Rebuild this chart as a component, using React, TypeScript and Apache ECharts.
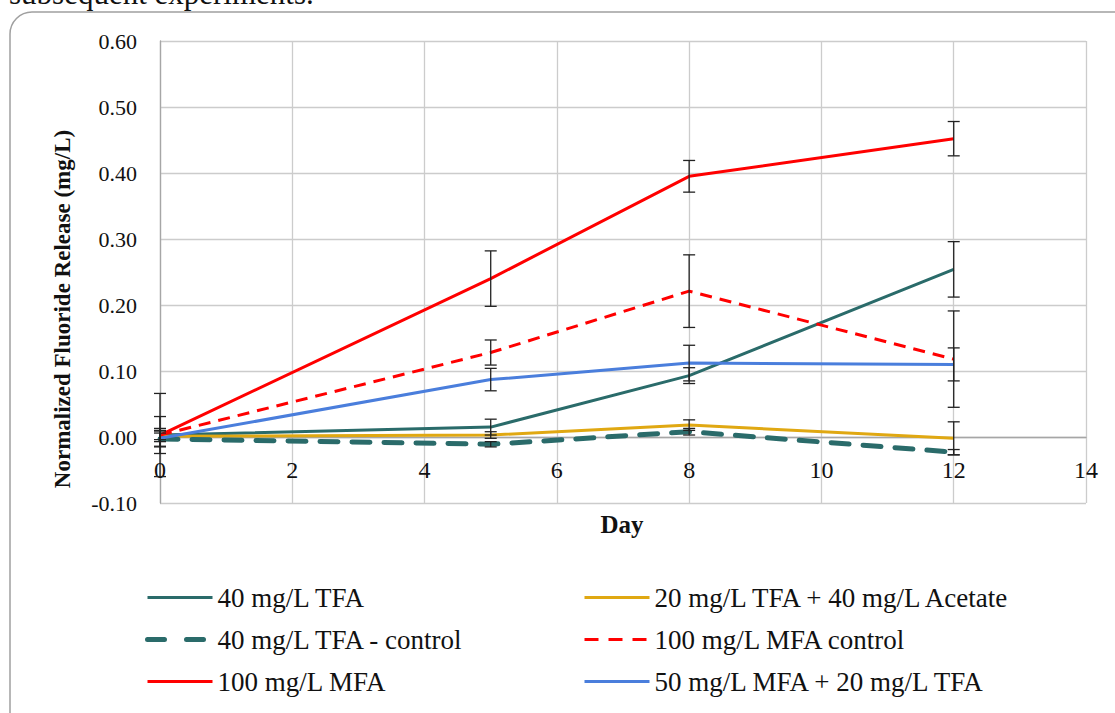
import React, { useEffect, useRef } from "react";
import * as echarts from "echarts";

const days = [0, 5, 8, 12];
const xTicksMax = 14;

const nameTFA = "40 mg/L TFA";
const nameAcetate = "20 mg/L TFA + 40 mg/L Acetate";
const nameTFAcontrol = "40 mg/L TFA - control";
const nameMFAcontrol = "100 mg/L MFA control";
const nameMFA = "100 mg/L MFA";
const nameMix = "50 mg/L MFA + 20 mg/L TFA";

const xTitle = "Day";
const yTitle = "Normalized Fluoride Release (mg/L)";
const topText = "subsequent experiments.";

const valTFA = [0.003, 0.015, 0.093, 0.254];
const valAcetate = [0.001, 0.003, 0.018, -0.002];
const valTFAcontrol = [-0.003, -0.011, 0.008, -0.023];
const valMFAcontrol = [0.003, 0.128, 0.221, 0.118];
const valMFA = [0.003, 0.24, 0.395, 0.452];
const valMix = [-0.002, 0.087, 0.112, 0.11];

const errTFA = [0.01, 0.012, 0.012, 0.042];
const errAcetate = [0.005, 0.005, 0.008, 0.025];
const errTFAcontrol = [0.012, 0.004, 0.005, 0.004];
const errMFAcontrol = [0.028, 0.019, 0.055, 0.073];
const errMFA = [0.063, 0.042, 0.024, 0.026];
const errMix = [0.012, 0.017, 0.027, 0.025];

const FONT = "'Liberation Serif', 'Times New Roman', serif";

export default function App() {
  const ref = useRef<HTMLDivElement>(null);
  useEffect(() => {
    if (!ref.current) return;
    const chart = echarts.init(ref.current, null, { renderer: "svg" });

    const pts = (vals: number[]) => days.map((d, i) => [d, vals[i]]);
    const errs = (vals: number[], e: number[]) =>
      days.map((d, i) => [d, vals[i] - e[i], vals[i] + e[i]]);

    const lineSeries = (name: string, vals: number[], color: string, width: number, type: any, cap: any = "butt") => ({
      type: "line",
      name,
      data: pts(vals),
      symbol: "none",
      showSymbol: false,
      lineStyle: { color, width, type, cap },
      itemStyle: { color },
      z: 3,
    });

    const errSeries = (vals: number[], e: number[]) => ({
      type: "custom",
      data: errs(vals, e),
      encode: { x: 0, y: [1, 2] },
      z: 5,
      silent: true,
      renderItem: (_params: any, api: any) => {
        const x = api.value(0);
        const lo = api.value(1);
        const hi = api.value(2);
        const a = api.coord([x, hi]);
        const b = api.coord([x, lo]);
        const w = 6;
        const st = { stroke: "#222", lineWidth: 1.3 };
        return {
          type: "group",
          children: [
            { type: "line", shape: { x1: a[0], y1: a[1], x2: b[0], y2: b[1] }, style: st },
            { type: "line", shape: { x1: a[0] - w, y1: a[1], x2: a[0] + w, y2: a[1] }, style: st },
            { type: "line", shape: { x1: b[0] - w, y1: b[1], x2: b[0] + w, y2: b[1] }, style: st },
          ],
        };
      },
    });

    const teal = "#2A6B6A";
    const gold = "#E0A812";
    const red = "#FF0000";
    const blue = "#4A7EDC";

    const legendCommon = {
      orient: "vertical",
      itemWidth: 65,
      itemHeight: 14,
      itemGap: 15,
      itemStyle: { opacity: 0 },
      textStyle: { fontFamily: FONT, fontSize: 27, color: "#111" },
    };

    const li = (name: string, color: string, width: number, type: any, cap: any = "butt") => ({
      name,
      itemStyle: { opacity: 0 },
      lineStyle: { color, width, type, cap },
    });

    chart.setOption({
      animation: false,
      backgroundColor: "#fff",
      grid: { left: 160, top: 41, width: 926, height: 462, containLabel: false },
      xAxis: {
        type: "value",
        min: 0,
        max: xTicksMax,
        interval: 2,
        axisLine: { show: true, onZero: true, lineStyle: { color: "#A6A6A6", width: 1.3 } },
        axisTick: { show: false },
        axisLabel: { fontFamily: FONT, fontSize: 24, color: "#111", margin: -45 },
        splitLine: { show: true, lineStyle: { color: "#CCCCCC", width: 1.3 } },
      },
      yAxis: {
        type: "value",
        min: -0.1,
        max: 0.6,
        interval: 0.1,
        axisLine: { show: true, lineStyle: { color: "#A6A6A6", width: 1.3 } },
        axisTick: { show: false },
        axisLabel: {
          fontFamily: FONT,
          fontSize: 22,
          color: "#111",
          margin: 23,
          formatter: (v: number) => v.toFixed(2),
        },
        splitLine: { show: true, lineStyle: { color: "#CCCCCC", width: 1.3 } },
      },
      legend: [
        {
          ...legendCommon,
          left: 140,
          top: 579,
          data: [
            li(nameTFA, teal, 3, "solid"),
            li(nameTFAcontrol, teal, 5, [17, 22], "round"),
            li(nameMFA, red, 3, "solid"),
          ],
        },
        {
          ...legendCommon,
          left: 578,
          top: 579,
          data: [
            li(nameAcetate, gold, 3, "solid"),
            li(nameMFAcontrol, red, 3, [14, 10]),
            li(nameMix, blue, 3, "solid"),
          ],
        },
      ],
      graphic: [
        {
          type: "rect",
          shape: { x: 10, y: 12, width: 1130, height: 730, r: 22 },
          style: { fill: "none", stroke: "#A0A0A0", lineWidth: 1.5 },
          z: -10,
        },
        {
          type: "text",
          left: 9,
          top: -22,
          style: { text: topText, font: `31px ${FONT}`, fill: "#111" },
        },
        {
          type: "text",
          x: 622,
          y: 524,
          style: {
            text: xTitle,
            font: `bold 25px ${FONT}`,
            fill: "#111",
            align: "center",
            verticalAlign: "middle",
          },
        },
        {
          type: "text",
          x: 62,
          y: 309,
          rotation: Math.PI / 2,
          style: {
            text: yTitle,
            font: `bold 23px ${FONT}`,
            fill: "#111",
            align: "center",
            verticalAlign: "middle",
          },
        },
      ],
      series: [
        lineSeries(nameTFA, valTFA, teal, 3, "solid"),
        lineSeries(nameAcetate, valAcetate, gold, 3, "solid"),
        lineSeries(nameTFAcontrol, valTFAcontrol, teal, 5, [18, 14], "round"),
        lineSeries(nameMFAcontrol, valMFAcontrol, red, 3, [12, 8]),
        lineSeries(nameMFA, valMFA, red, 3, "solid"),
        lineSeries(nameMix, valMix, blue, 3, "solid"),
        errSeries(valTFA, errTFA),
        errSeries(valAcetate, errAcetate),
        errSeries(valTFAcontrol, errTFAcontrol),
        errSeries(valMFAcontrol, errMFAcontrol),
        errSeries(valMFA, errMFA),
        errSeries(valMix, errMix),
      ],
    });
    return () => chart.dispose();
  }, []);
  return (
    <div
      ref={ref}
      style={{ position: "fixed", left: 0, top: 0, width: 1115, height: 713 }}
    />
  );
}
